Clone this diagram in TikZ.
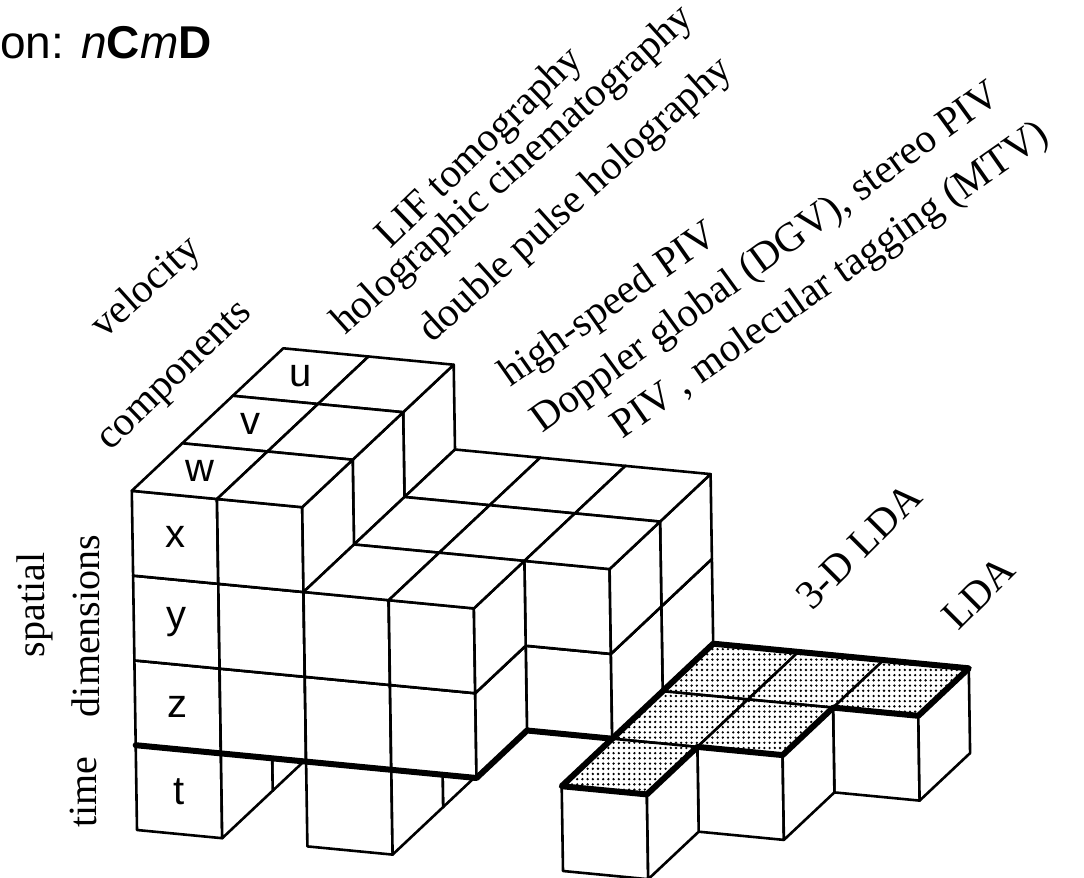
\documentclass[tikz,border=0pt]{standalone}
\usepackage{fontspec}
\setmainfont{Liberation Serif}
\newfontfamily\cellfont{Liberation Sans}
\usetikzlibrary{patterns}

% dotted screen on the LDA tops
\pgfdeclarepatternformonly{ldadots}{\pgfpoint{-1pt}{-1pt}}{\pgfpoint{1pt}{1pt}}{\pgfpoint{2.6pt}{2.6pt}}{%
    \pgfpathcircle{\pgfpointorigin}{0.65pt}\pgfusepath{fill}}

% one unit cube: front, right and top face (#1 = style of the top)
\newcommand{\unitcube}[4][face]{%
    \filldraw[face] (#2,#3,#4) -- ++(1,0,0) -- ++(0,0,1) -- ++(-1,0,0) -- cycle;
    \filldraw[face] (#2,#3,#4) ++(1,0,0) -- ++(0,1,0) -- ++(0,0,1) -- ++(0,-1,0) -- cycle;
    \filldraw[#1] (#2,#3,#4) ++(0,0,1) -- ++(1,0,0) -- ++(0,1,0) -- ++(-1,0,0) -- cycle;
}

\begin{document}
\begin{tikzpicture}[
        x=0.5pt, y=-0.5pt,
        face/.style={fill=white, draw=black, line width=1.3pt, line join=round},
        lda top/.style={draw=black, line width=1.3pt, line join=round,
            preaction={fill=white}, pattern=ldadots},
        time plane/.style={line width=3pt, line join=round, line cap=round},
        cell/.style={font=\cellfont\fontsize{20}{24}\selectfont},
        tech/.style={font=\fontsize{20.5}{24}\selectfont, anchor=base west, inner sep=0pt},
        side/.style={font=\fontsize{20}{24}\selectfont, anchor=base, rotate=90, inner sep=0pt},
    ]
    \useasboundingbox (0,0) rectangle (1084,878);

    % title
    \node[anchor=base west, inner sep=0pt, font=\cellfont\fontsize{23}{26}\selectfont]
        (title) at (0,58) {on: \textit{n}\textbf{C}\textit{m}\textbf{D}};

    % blocks
    \begin{scope}[shift={(68.5pt,-415pt)},
            x={(42.6pt,-4.1pt)}, y={(25.25pt,23.75pt)}, z={(-0.65pt,42.4pt)}]
        \foreach \j in {2,1,0} {
            \foreach \i/\kfrom/\kto in {0/0/3,1/1/3,2/0/2,3/1/2,4/1/2} {
                \ifnum\i\j=40\relax\else
                    \foreach \k in {\kfrom,...,\kto} {\unitcube{\i}{\j}{\k}}
                \fi
            }
        }
        % LDA
        \foreach \i/\j in {5/2,6/2,7/2,5/1,6/1,5/0} {\unitcube[lda top]{\i}{\j}{0}}
        \draw[time plane] (0,0,1) -- (4,0,1) -- (4,1,1) -- (5,1,1);
        \draw[time plane] (5,0,1) -- (5,3,1) -- (8,3,1) -- (8,2,1) -- (7,2,1)
            -- (7,1,1) -- (6,1,1) -- (6,0,1) -- cycle;

        % components and dimensions
        \node[cell] (w) at (0.5,0.5,4) {w};
        \node[cell] (v) at (0.5,1.5,4) {v};
        \node[cell] (u) at (0.5,2.5,4) {u};
        \node[cell] (x) at (0.5,0,3.5) {x};
        \node[cell] (y) at (0.5,0,2.5) {y};
        \node[cell] (z) at (0.5,0,1.5) {z};
        \node[cell] (t) at (0.5,0,0.5) {t};
    \end{scope}

    % labels
    \node[tech, rotate=42] (velocity) at (104,340) {velocity};
    \node[tech, rotate=44] (components) at (110,452) {components};
    \node[tech, rotate=44] (lif) at (390,250) {LIF tomography};
    \node[tech, rotate=42] (holocine) at (345,336) {holographic cinematography};
    \node[tech, rotate=42] (holodouble) at (432,344) {double pulse holography};
    \node[tech, rotate=35] (hspiv) at (510,388) {high-speed PIV};
    \node[tech, rotate=36] (dgv) at (542,434) {Doppler global (DGV), stereo PIV};
    \node[tech, rotate=35] (piv) at (622,440) {PIV , molecular tagging (MTV)};
    \node[tech, rotate=45] (lda3) at (812,612) {3-D LDA};
    \node[tech, rotate=45] (lda) at (958,632) {LDA};

    \node[side] (spatial) at (45,605) {spatial};
    \node[side] (dimensions) at (99,626) {dimensions};
    \node[side] (time) at (97,792) {time};
\end{tikzpicture}
\end{document}
